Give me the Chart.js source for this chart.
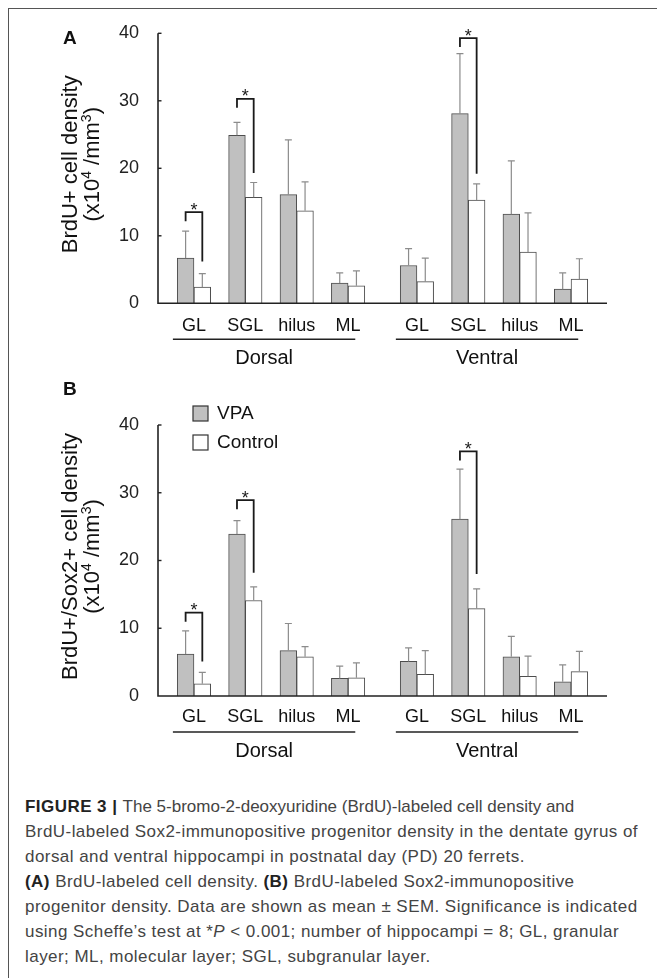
<!DOCTYPE html>
<html>
<head>
<meta charset="utf-8">
<script src="https://cdn.jsdelivr.net/npm/chart.js@4.4.1/dist/chart.umd.min.js"></script>
<style>
  body { margin: 0; background: #fff; width: 657px; height: 978px; position: relative; overflow: hidden;
         font-family: "Liberation Sans", Arial, sans-serif; }
  .frame { position: absolute; left: 8px; top: 8px; width: 700px; height: 1000px;
           border-left: 1px solid #555; border-top: 1px solid #555; }
  canvas { position: absolute; left: 0; }
  #chartA { top: 0; }
  #chartB { top: 380px; }
  .caption { position: absolute; left: 25px; top: 794px; font-size: 17px; line-height: 25px;
             color: #444; white-space: nowrap; letter-spacing: 0.45px; }
  .caption b { color: #222; }
  .caption .tight { letter-spacing: 0; }
</style>
</head>
<body>
<div class="frame"></div>
<canvas id="chartA" width="657" height="380"></canvas>
<canvas id="chartB" width="657" height="395"></canvas>
<div class="caption">
  <b>FIGURE 3 |</b> <span class="tight">The 5-bromo-2-deoxyuridine (BrdU)-labeled cell density and</span><br>
  BrdU-labeled Sox2-immunopositive progenitor density in the dentate gyrus of<br>
  dorsal and ventral hippocampi in postnatal day (PD) 20 ferrets.<br>
  <b>(A)</b> BrdU-labeled cell density. <b>(B)</b> BrdU-labeled Sox2-immunopositive<br>
  progenitor density. Data are shown as mean ± SEM. Significance is indicated<br>
  using Scheffe’s test at *<i>P</i> &lt; 0.001; number of hippocampi = 8; GL, granular<br>
  layer; ML, molecular layer; SGL, subgranular layer.
</div>
<script>
// categories and where they sit on the x axis (ventral group is shifted a bit)
const categories = ['GL', 'SGL', 'hilus', 'ML', 'GL', 'SGL', 'hilus', 'ML'];
const xPositions = [1, 2, 3, 4, 5.34, 6.34, 7.34, 8.34];
const regions = ['Dorsal', 'Ventral'];
const yTicks = [0, 10, 20, 30, 40];

// panel A: BrdU+ cell density
const vpaA    = [6.7, 24.9, 16.1, 3.0, 5.6, 28.1, 13.2, 2.1];
const vpaSemA = [4.0, 1.9, 8.1, 1.5, 2.5, 8.9, 7.9, 2.4];
const ctlA    = [2.4, 15.7, 13.7, 2.6, 3.2, 15.3, 7.6, 3.6];
const ctlSemA = [2.0, 2.2, 4.3, 2.2, 3.5, 2.4, 5.8, 3.0];
const sigA = [{ i: 0, top: 13.5, end: 6.2 }, { i: 1, top: 30.3, end: 19.3 }, { i: 5, top: 39.3, end: 19.2 }];

// panel B: BrdU+/Sox2+ cell density
const vpaB    = [6.2, 23.9, 6.7, 2.6, 5.1, 26.1, 5.8, 2.1];
const vpaSemB = [3.4, 2.0, 4.0, 1.8, 2.0, 7.4, 3.0, 2.5];
const ctlB    = [1.8, 14.1, 5.8, 2.7, 3.2, 12.9, 2.9, 3.6];
const ctlSemB = [1.7, 2.0, 1.5, 2.2, 3.5, 2.9, 3.0, 3.0];
const sigB = [{ i: 0, top: 12.3, end: 5.1 }, { i: 1, top: 28.9, end: 18.2 }, { i: 5, top: 36.1, end: 18.0 }];

const FONT = '"Liberation Sans", Arial, sans-serif';

const figureExtras = {
  id: 'figureExtras',
  afterDatasetsDraw(chart, args, o) {
    const { ctx, chartArea: a, scales: { x, y } } = chart;
    ctx.save();

    // error bars (mean + SEM, upper only)
    chart.data.datasets.forEach((ds, d) => {
      chart.getDatasetMeta(d).data.forEach((bar, i) => {
        const yTop = y.getPixelForValue(ds.data[i].y + ds.sem[i]);
        ctx.strokeStyle = '#8c8c8c';
        ctx.lineWidth = 1.2;
        ctx.beginPath();
        ctx.moveTo(bar.x, bar.y); ctx.lineTo(bar.x, yTop);
        ctx.moveTo(bar.x - 3.5, yTop); ctx.lineTo(bar.x + 3.5, yTop);
        ctx.stroke();
      });
    });

    // significance brackets
    const vBars = chart.getDatasetMeta(0).data, cBars = chart.getDatasetMeta(1).data;
    o.brackets.forEach(b => {
      const x1 = vBars[b.i].x, x2 = cBars[b.i].x;
      const yT = y.getPixelForValue(b.top), yE = y.getPixelForValue(b.end);
      ctx.strokeStyle = '#1a1a1a';
      ctx.lineWidth = 1.8;
      ctx.beginPath();
      ctx.moveTo(x1, yT + 9); ctx.lineTo(x1, yT); ctx.lineTo(x2, yT); ctx.lineTo(x2, yE);
      ctx.stroke();
      ctx.fillStyle = '#1a1a1a';
      ctx.font = '18px ' + FONT;
      ctx.textAlign = 'center';
      ctx.textBaseline = 'alphabetic';
      ctx.fillText('*', (x1 + x2) / 2, yT + 3.5);
    });

    // region underlines and names
    [[0, 3], [4, 7]].forEach(([s, e], r) => {
      const l = x.getPixelForValue(xPositions[s] - 0.41);
      const rr = x.getPixelForValue(xPositions[e] + 0.14);
      const ly = a.bottom + 36;
      ctx.strokeStyle = '#222';
      ctx.lineWidth = 1.5;
      ctx.beginPath(); ctx.moveTo(l, ly); ctx.lineTo(rr, ly); ctx.stroke();
      ctx.fillStyle = '#111';
      ctx.font = '20px ' + FONT;
      ctx.textAlign = 'center';
      ctx.textBaseline = 'middle';
      ctx.fillText(regions[r], (l + rr) / 2, a.bottom + 55);
    });

    // y axis title, two lines, rotated
    const cy = (a.top + a.bottom) / 2 - 4;
    ctx.translate(0, cy);
    ctx.rotate(-Math.PI / 2);
    ctx.fillStyle = '#111';
    ctx.textBaseline = 'middle';
    ctx.textAlign = 'center';
    ctx.font = '22px ' + FONT;
    ctx.fillText(o.title, 0, 71);
    const parts = [['(x10', 0], ['4', 1], [' /mm', 0], ['3', 1], [')', 0]];
    const fontOf = p => (p[1] ? '14px ' : '22px ') + FONT;
    let w = 0;
    parts.forEach(p => { ctx.font = fontOf(p); w += ctx.measureText(p[0]).width; });
    let u = -w / 2;
    ctx.textAlign = 'left';
    parts.forEach(p => {
      ctx.font = fontOf(p);
      ctx.fillText(p[0], u, p[1] ? 87 : 93);
      u += ctx.measureText(p[0]).width;
    });
    ctx.setTransform(1, 0, 0, 1, 0, 0);

    // panel letter
    ctx.fillStyle = '#111';
    ctx.font = 'bold 19px ' + FONT;
    ctx.textAlign = 'left';
    ctx.textBaseline = 'alphabetic';
    ctx.fillText(o.letter, 63, o.letterY);

    // legend
    if (o.legend) {
      chart.data.datasets.forEach((ds, d) => {
        const ty = o.legend.y + d * 29;
        ctx.fillStyle = ds.backgroundColor;
        ctx.fillRect(o.legend.x, ty, 15, 15);
        ctx.strokeStyle = '#333';
        ctx.lineWidth = 1.2;
        ctx.strokeRect(o.legend.x, ty, 15, 15);
        ctx.fillStyle = '#111';
        ctx.font = '19px ' + FONT;
        ctx.textBaseline = 'middle';
        ctx.fillText(ds.label, o.legend.x + 24, ty + 8);
      });
    }
    ctx.restore();
  },
  afterDraw(chart) {
    // axes: plain L shape plus small inward ticks on y
    const { ctx, chartArea: a, scales: { y } } = chart;
    ctx.save();
    ctx.strokeStyle = '#222';
    ctx.lineWidth = 1.6;
    ctx.beginPath();
    ctx.moveTo(a.left, a.top);
    ctx.lineTo(a.left, a.bottom);
    ctx.lineTo(a.right, a.bottom);
    ctx.stroke();
    ctx.lineWidth = 1.4;
    yTicks.forEach(v => {
      if (v === 0) return;
      const py = y.getPixelForValue(v);
      ctx.beginPath(); ctx.moveTo(a.left, py); ctx.lineTo(a.left + 3.5, py); ctx.stroke();
    });
    ctx.restore();
  }
};

function buildChart(id, o) {
  const dataset = (label, vals, sem, fill) => ({
    label: label,
    sem: sem,
    data: xPositions.map((xv, i) => ({ x: xv, y: vals[i] })),
    backgroundColor: fill,
    borderColor: '#4d4d4d',
    borderWidth: 1,
    barThickness: 16.7
  });
  return new Chart(id, {
    type: 'bar',
    data: {
      datasets: [
        dataset('VPA', o.vpa, o.vpaSem, '#c0c0c0'),
        dataset('Control', o.ctl, o.ctlSem, '#ffffff')
      ]
    },
    options: {
      responsive: false,
      animation: false,
      layout: { padding: { top: o.top, right: 50, bottom: 0, left: 0 } },
      plugins: {
        legend: { display: false },
        tooltip: { enabled: false },
        figureExtras: o.extras
      },
      scales: {
        x: {
          type: 'linear',
          offset: false,
          min: 0.3,
          max: 9.04,
          afterBuildTicks: s => { s.ticks = xPositions.map(v => ({ value: v })); },
          afterFit: s => { s.height = o.xHeight; },
          ticks: {
            autoSkip: false, maxRotation: 0, padding: o.tickPad,
            font: { family: FONT, size: 18 }, color: '#111',
            callback: (v, i) => categories[i]
          },
          grid: { display: false, offset: false },
          border: { display: false }
        },
        y: {
          min: 0,
          max: 40,
          afterBuildTicks: s => { s.ticks = yTicks.map(v => ({ value: v })); },
          afterFit: s => { s.width = 158; },
          ticks: { padding: 11, font: { family: FONT, size: 18 }, color: '#222' },
          grid: { display: false },
          border: { display: false }
        }
      }
    },
    plugins: [figureExtras]
  });
}

buildChart('chartA', {
  vpa: vpaA, vpaSem: vpaSemA, ctl: ctlA, ctlSem: ctlSemA,
  top: 33.3, xHeight: 76.7, tickPad: 4,
  extras: { brackets: sigA, title: 'BrdU+ cell density', letter: 'A', letterY: 44 }
});

buildChart('chartB', {
  vpa: vpaB, vpaSem: vpaSemB, ctl: ctlB, ctlSem: ctlSemB,
  top: 45, xHeight: 79, tickPad: 2,
  extras: { brackets: sigB, title: 'BrdU+/Sox2+ cell density', letter: 'B', letterY: 15,
            legend: { x: 193, y: 26 } }
});
</script>
</body>
</html>
